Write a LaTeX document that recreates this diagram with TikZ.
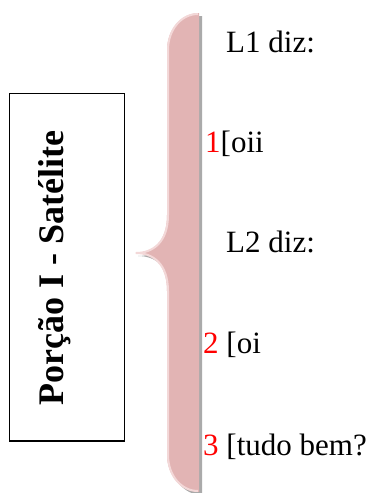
\documentclass[tikz,border=0pt]{standalone}
\usepackage{fontspec}
\setmainfont{Liberation Serif}
\usepackage{xcolor}
\definecolor{bracefill}{RGB}{226,180,180}
\definecolor{braceedge}{RGB}{243,216,216}
\definecolor{braceshadow}{RGB}{170,170,170}
\begin{document}
\begin{tikzpicture}[x=1pt,y=-1pt,
  line/.style={font=\fontsize{31}{31}\selectfont,anchor=base west,inner sep=0pt},
  num/.style={text=red},
  titlebox/.style={draw=black,line width=1.5pt,minimum width=115pt,minimum height=347.7pt,inner sep=0pt},
  titletext/.style={font=\fontsize{36}{36}\selectfont\bfseries,rotate=90,anchor=base,inner sep=0pt}]
\useasboundingbox (0,0) rectangle (373,493);
% the curly brace outline, reused for shadow and fill
\def\bracepath{(199,13) .. controls (181,13) and (167,30) .. (167,50)
  -- (167,215) .. controls (167,243) and (152,253) .. (135,253)
  .. controls (152,253) and (167,263) .. (167,291)
  -- (167,455) .. controls (167,475) and (181,492) .. (199,492) -- cycle}
% drop shadow
\fill[braceshadow,shift={(3,3)}] \bracepath;
% brace body
\fill[bracefill] \bracepath;
% light rim along the curved side
\draw[braceedge,line width=2pt] (198,14) .. controls (181,14) and (168,30) .. (168,50)
  -- (168,215) .. controls (168,243) and (152,253) .. (136,253)
  .. controls (152,253) and (168,263) .. (168,291)
  -- (168,455) .. controls (168,475) and (181,491) .. (198,491);
% title box
\node[titlebox] (box) at (66.8,267.2) {};
\node[titletext] (title) at (63,268) {Porção I - Satélite};
% dialogue lines
\node[line] (l1) at (226,52) {L1 diz:};
\node[line] (t1) at (205,152) {\textcolor{red}{1}[oii};
\node[line] (l2) at (226,252) {L2 diz:};
\node[line] (t2) at (203,353) {\textcolor{red}{2} [oi};
\node[line] (t3) at (203,455) {\textcolor{red}{3} [tudo bem?};
\end{tikzpicture}
\end{document}
